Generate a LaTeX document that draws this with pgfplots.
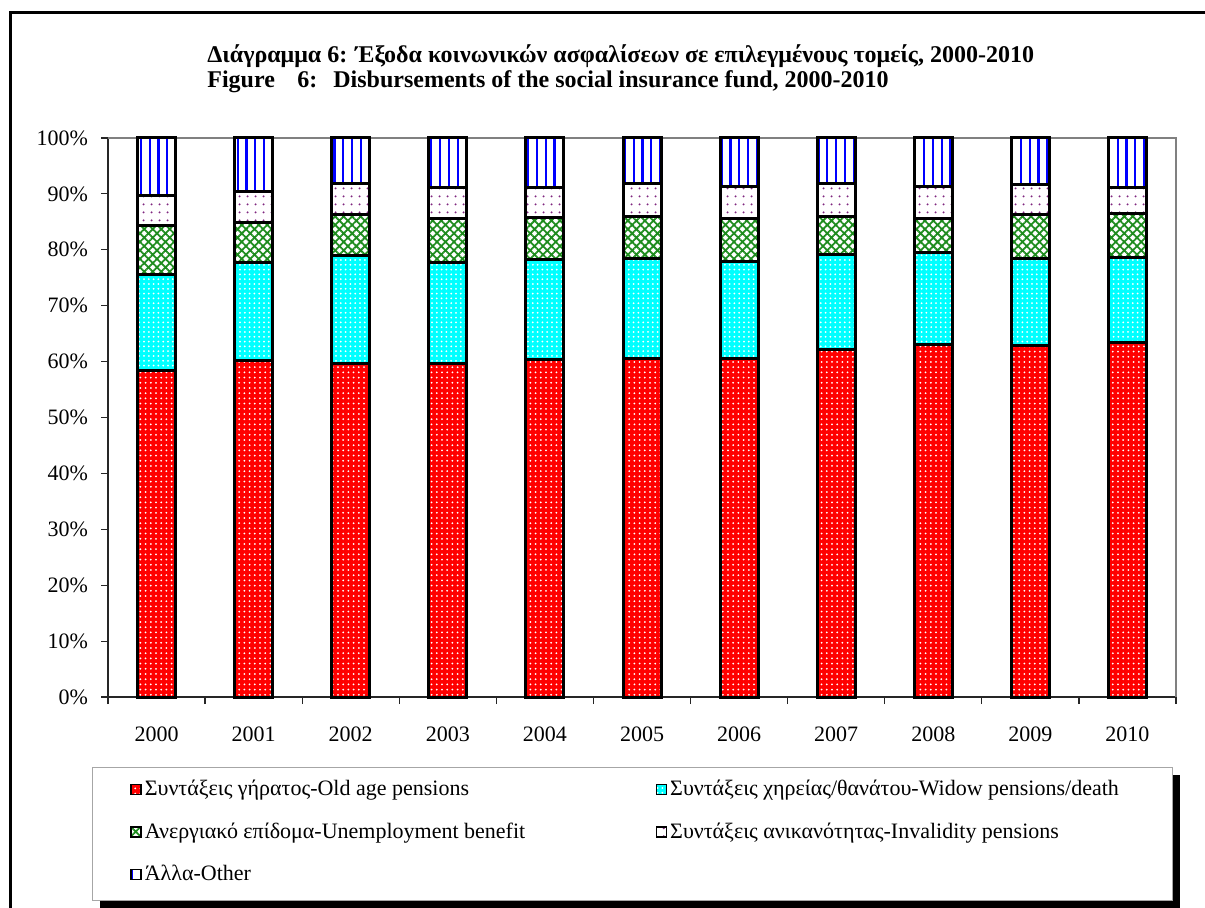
\documentclass[border=0pt]{standalone}
\usepackage{fontspec}
\setmainfont{Liberation Serif}
\usepackage{pgfplots}
\usepackage{pgfplotstable}
\pgfplotsset{compat=1.18}
\usetikzlibrary{patterns,patterns.meta}

\pgfplotstableread{
x old widow unemp inval other
0 58.4 17.2 8.7 5.4 10.3
1 60.2 17.6 7.1 5.6 9.5
2 59.7 19.2 7.4 5.6 8.1
3 59.7 18.0 7.9 5.5 8.9
4 60.3 18.0 7.4 5.5 8.8
5 60.6 17.8 7.6 5.9 8.1
6 60.5 17.4 7.7 5.7 8.7
7 62.1 17.0 6.8 6.0 8.1
8 63.0 16.6 6.0 5.8 8.6
9 62.8 15.7 7.8 5.3 8.4
10 63.4 15.2 7.9 4.7 8.8
}\data

\definecolor{dgreen}{RGB}{30,140,30}
\definecolor{dpurple}{RGB}{128,40,128}
\definecolor{rcyan}{RGB}{0,255,255}
\definecolor{rred}{RGB}{255,0,0}
\definecolor{rblue}{RGB}{0,0,255}

\begin{document}
\begin{tikzpicture}[x=0.5pt,y=-0.5pt]
\path[use as bounding box] (0,0) rectangle (1205,908);
\draw[line width=1.5pt] (10,908) -- (10,13) -- (1205,13);
\node[anchor=base west, inner sep=0, font=\fontsize{12}{14}\selectfont\bfseries] at (207,63) {Διάγραμμα 6: Έξοδα κοινωνικών ασφαλίσεων σε επιλεγμένους τομείς, 2000-2010};
\node[anchor=base west, inner sep=0, font=\fontsize{12}{14}\selectfont\bfseries] at (207,88) {Figure};
\node[anchor=base west, inner sep=0, font=\fontsize{12}{14}\selectfont\bfseries] at (297,88) {6:\hspace{8pt}Disbursements of the social insurance fund, 2000-2010};
% legend box with shadow
\fill[black] (100,775) rectangle (1180,908);
\draw[gray!70, fill=white, line width=0.5pt] (92,767) rectangle (1172,900);
\begin{axis}[
  at={(54pt,-348.5pt)}, anchor=south west,
  width=534pt, height=279.5pt, scale only axis,
  ybar stacked, bar width=19pt,
  xmin=-0.5, xmax=10.5, ymin=0, ymax=100,
  clip=false,
  axis x line*=bottom, axis y line*=left,
  axis line style={black!85, line width=0.6pt},
  tick align=outside,
  major tick length=3.5pt, minor tick length=3.5pt,
  tick style={black!85, line width=0.6pt},
  ytick={0,10,...,100},
  yticklabel={\pgfmathprintnumber{\tick}\%},
  yticklabel style={xshift=-3pt},
  xtick={0,...,10},
  xticklabels={2000,2001,2002,2003,2004,2005,2006,2007,2008,2009,2010},
  major x tick style={draw=none},
  minor xtick={-0.5,0.5,...,10.5},
  xticklabel style={yshift=-8pt},
  ticklabel style={font=\fontsize{11}{13}\selectfont},
  /pgf/number format/assume math mode=true,
  legend columns=2,
  legend cell align=left,
  legend image code/.code={\draw[#1, line width=0.7pt] (0pt,-2.5pt) rectangle (5pt,2.5pt);},
  legend style={draw=none, fill=none, at={(axis description cs:0.015,-0.2415)}, anchor=west,
    font=\fontsize{11}{13}\selectfont, row sep=9pt, nodes={inner sep=1.5pt}},
]
\addplot[draw=black, line width=1.5pt, fill=rred,
  postaction={pattern={Dots[distance=2.6pt,radius=0.5pt]}, pattern color=white}]
  table[x=x,y=old]{\data};
\addplot[draw=black, line width=1.5pt, fill=rcyan,
  postaction={pattern={Dots[distance=2.4pt,radius=0.5pt]}, pattern color=white}]
  table[x=x,y=widow]{\data};
\addplot[draw=black, line width=1.5pt, fill=white,
  postaction={pattern={Hatch[angle=45,distance=3pt,line width=0.9pt]}, pattern color=dgreen}]
  table[x=x,y=unemp]{\data};
\addplot[draw=black, line width=1.5pt, fill=white,
  postaction={pattern={Dots[distance=4pt,radius=0.6pt]}, pattern color=dpurple}]
  table[x=x,y=inval]{\data};
\addplot[draw=black, line width=1.5pt, fill=white,
  postaction={pattern={Lines[angle=90,distance=4.4pt,line width=1.1pt]}, pattern color=rblue}]
  table[x=x,y=other]{\data};
\legend{\makebox[254pt][l]{Συντάξεις γήρατος-Old age pensions},
  Συντάξεις χηρείας/θανάτου-Widow pensions/death,
  \makebox[254pt][l]{Ανεργιακό επίδομα-Unemployment benefit},
  Συντάξεις ανικανότητας-Invalidity pensions,
  \makebox[254pt][l]{Άλλα-Other}}
\draw[gray, line width=1pt] (rel axis cs:0,1) -- (rel axis cs:1,1) -- (rel axis cs:1,0);
\end{axis}
\end{tikzpicture}
\end{document}
